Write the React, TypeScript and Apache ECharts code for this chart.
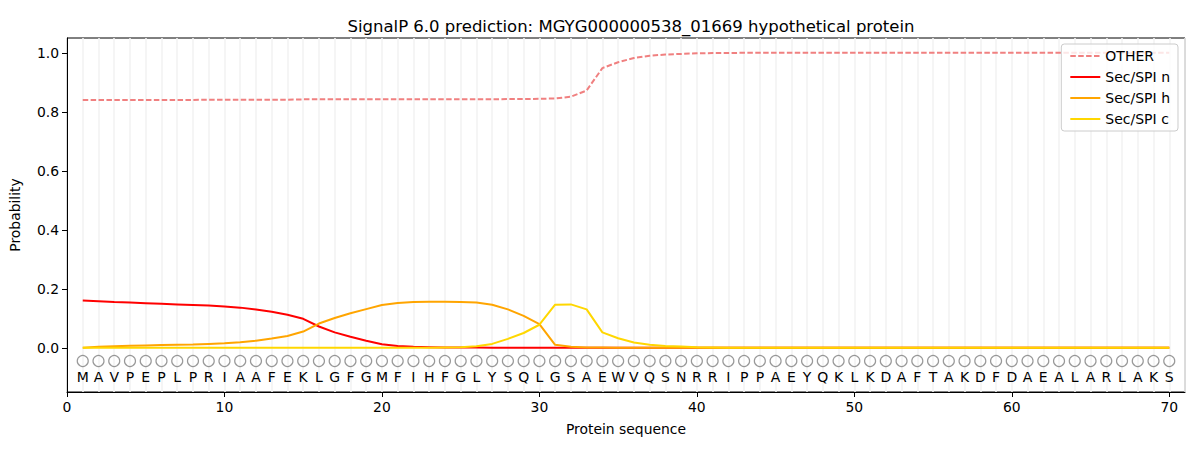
import React, { useEffect, useRef } from "react";
import * as echarts from "echarts";

const sequence = "MAVPEPLPRIAAFEKLGFGMFIHFGLYSQLGSAEWVQSNRRIPPAEYQKLKDAFTAKDFDAEALARLAKS".split("");

const otherVals = [
  0.840, 0.840, 0.840, 0.840, 0.840, 0.840, 0.840, 0.840, 0.841, 0.841,
  0.841, 0.841, 0.841, 0.841, 0.842, 0.842, 0.842, 0.842, 0.842, 0.842,
  0.842, 0.842, 0.842, 0.842, 0.842, 0.842, 0.842, 0.843, 0.843, 0.844,
  0.845, 0.851, 0.872, 0.948, 0.968, 0.982, 0.990, 0.994, 0.996, 0.998,
  0.999, 0.999, 1.0, 1.0, 1.0, 1.0, 1.0, 1.0, 1.0, 1.0,
  1.0, 1.0, 1.0, 1.0, 1.0, 1.0, 1.0, 1.0, 1.0, 1.0,
  1.0, 1.0, 1.0, 1.0, 1.0, 1.0, 1.0, 1.0, 1.0, 1.0,
];

const secN = [
  0.160, 0.158, 0.155, 0.153, 0.151, 0.149, 0.147, 0.145, 0.143, 0.140,
  0.136, 0.130, 0.122, 0.112, 0.098, 0.072, 0.052, 0.037, 0.024, 0.012,
  0.006, 0.003, 0.002, 0.001, 0.001, 0.001, 0, 0, 0, 0,
  0, 0, 0, 0, 0, 0, 0, 0, 0, 0,
  0, 0, 0, 0, 0, 0, 0, 0, 0, 0,
  0, 0, 0, 0, 0, 0, 0, 0, 0, 0,
  0, 0, 0, 0, 0, 0, 0, 0, 0, 0,
];

const secH = [
  0.000, 0.003, 0.005, 0.007, 0.008, 0.009, 0.010, 0.011, 0.013, 0.015,
  0.019, 0.024, 0.031, 0.040, 0.055, 0.082, 0.101, 0.117, 0.131, 0.145,
  0.152, 0.155, 0.156, 0.156, 0.155, 0.153, 0.146, 0.130, 0.108, 0.080,
  0.010, 0.003, 0.001, 0.001, 0, 0, 0, 0, 0, 0,
  0, 0, 0, 0, 0, 0, 0, 0, 0, 0,
  0, 0, 0, 0, 0, 0, 0, 0, 0, 0,
  0, 0, 0, 0, 0, 0, 0, 0, 0, 0,
];

const secC = [
  0, 0, 0, 0, 0, 0, 0, 0, 0, 0,
  0, 0, 0, 0, 0, 0, 0, 0, 0, 0,
  0, 0, 0, 0.001, 0.002, 0.005, 0.013, 0.030, 0.050, 0.078,
  0.146, 0.147, 0.130, 0.052, 0.032, 0.018, 0.010, 0.006, 0.004, 0.002,
  0.001, 0, 0, 0, 0, 0, 0, 0, 0, 0,
  0, 0, 0, 0, 0, 0, 0, 0, 0, 0,
  0, 0, 0, 0, 0, 0, 0, 0, 0, 0,
];

const yTicks = [0, 0.2, 0.4, 0.6, 0.8, 1.0];
const FONT = "DejaVu Sans";
const GRID_COLOR = "#f3f3f3";

const withPos = (arr: number[]) => arr.map((v, i) => [i + 1, v]);

export default function App() {
  const ref = useRef<HTMLDivElement>(null);
  useEffect(() => {
    document.body.style.margin = "0";
    if (!ref.current) return;
    const chart = echarts.init(ref.current, null, { renderer: "svg" });
    const lineBase = {
      type: "line",
      showSymbol: false,
      symbol: "none",
      z: 3,
      itemStyle: { opacity: 0 },
    };
    chart.setOption({
      animation: false,
      textStyle: { fontFamily: FONT },
      title: {
        text: "SignalP 6.0 prediction: MGYG000000538_01669 hypothetical protein",
        left: 626,
        textAlign: "center",
        top: 13,
        textStyle: { fontFamily: FONT, fontSize: 16.5, fontWeight: "normal", color: "#000" },
      },
      grid: {
        left: 67,
        right: 15,
        top: 38,
        bottom: 58,
        show: true,
        borderColor: "#000",
        borderWidth: 1,
        backgroundColor: "transparent",
      },
      legend: {
        right: 22,
        top: 44,
        orient: "vertical",
        itemWidth: 30,
        itemHeight: 14,
        itemGap: 7,
        padding: [5, 8, 5, 8],
        backgroundColor: "rgba(255,255,255,0.8)",
        borderColor: "#cccccc",
        borderWidth: 1,
        borderRadius: 3,
        textStyle: { fontFamily: FONT, fontSize: 14, color: "#000" },
        data: ["OTHER", "Sec/SPI n", "Sec/SPI h", "Sec/SPI c"],
      },
      xAxis: {
        type: "value",
        min: 0,
        max: 71,
        interval: 10,
        name: "Protein sequence",
        nameLocation: "middle",
        nameGap: 30,
        nameTextStyle: { fontFamily: FONT, fontSize: 13.9, color: "#000" },
        axisLine: { show: true, onZero: false, lineStyle: { color: "#000", width: 1 } },
        axisTick: { show: true, length: 5, lineStyle: { color: "#000" } },
        axisLabel: { fontFamily: FONT, fontSize: 13.9, color: "#000", margin: 8 },
        splitLine: { show: true, lineStyle: { color: GRID_COLOR, width: 1.6 } },
        minorTick: { show: false, splitNumber: 10 },
        minorSplitLine: { show: true, lineStyle: { color: GRID_COLOR, width: 1.6 } },
      },
      yAxis: {
        type: "value",
        min: -0.15,
        max: 1.05,
        name: "Probability",
        nameLocation: "middle",
        nameGap: 45,
        nameTextStyle: { fontFamily: FONT, fontSize: 13.9, color: "#000" },
        axisLine: { show: true, lineStyle: { color: "#000", width: 1 } },
        axisTick: { show: true, length: 5, lineStyle: { color: "#000" }, customValues: yTicks },
        axisLabel: {
          fontFamily: FONT,
          fontSize: 13.9,
          color: "#000",
          margin: 8,
          customValues: yTicks,
          formatter: (v: number) => v.toFixed(1),
        },
        splitLine: { show: false },
      },
      series: [
        {
          ...lineBase,
          name: "OTHER",
          data: withPos(otherVals),
          color: "#f08080",
          lineStyle: { color: "#f08080", width: 2, type: [5.5, 2.4] },
        },
        {
          ...lineBase,
          name: "Sec/SPI n",
          data: withPos(secN),
          color: "#ff0000",
          lineStyle: { color: "#ff0000", width: 2 },
        },
        {
          ...lineBase,
          name: "Sec/SPI h",
          data: withPos(secH),
          color: "#ffa500",
          lineStyle: { color: "#ffa500", width: 2 },
        },
        {
          ...lineBase,
          name: "Sec/SPI c",
          data: withPos(secC),
          color: "#ffd700",
          lineStyle: { color: "#ffd700", width: 2 },
        },
        {
          type: "scatter",
          name: "markers",
          data: sequence.map((_, i) => [i + 1, -0.045]),
          symbol: "circle",
          symbolSize: 11,
          itemStyle: { color: "transparent", borderColor: "#808080", borderWidth: 1.2 },
          silent: true,
          z: 2,
        },
        {
          type: "custom",
          name: "letters",
          data: sequence.map((_, i) => [i + 1, -0.1]),
          renderItem: (params: any, api: any) => {
            const pt = api.coord([api.value(0), api.value(1)]);
            return {
              type: "text",
              x: pt[0],
              y: pt[1],
              style: {
                text: sequence[params.dataIndex],
                align: "center",
                verticalAlign: "middle",
                fontFamily: FONT,
                fontSize: 14,
                fill: "#000",
              },
            };
          },
          silent: true,
          z: 2,
        },
      ],
    });
    return () => chart.dispose();
  }, []);
  return <div ref={ref} style={{ width: 1200, height: 450 }} />;
}
